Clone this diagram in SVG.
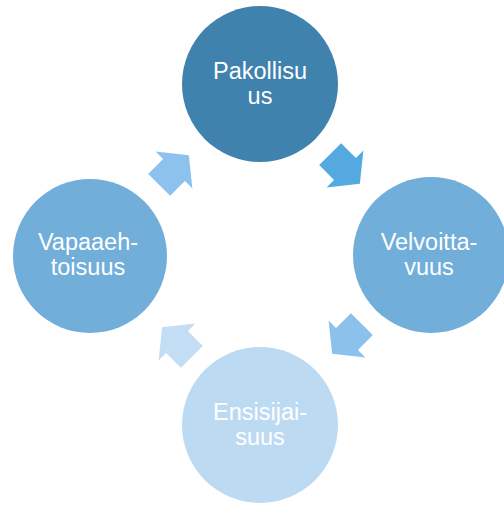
<svg xmlns="http://www.w3.org/2000/svg" width="504" height="505" viewBox="0 0 504 505">
  <defs>
    <style>
      .label { font-family: "Liberation Sans", Arial, sans-serif; font-size: 23.5px; fill: #ffffff; text-anchor: middle; }
    </style>
    <!-- block arrow pointing along +x, centred on the origin -->
    <path id="blockArrow" d="M-21,-15.5 H0 V-26 L21,0 L0,26 V15.5 H-21 Z"/>
  </defs>

  <rect width="504" height="505" fill="#ffffff"/>

  <g id="connectors">
    <use href="#blockArrow" fill="#8EC2EE" transform="translate(174,170) rotate(-45)"/>
    <use href="#blockArrow" fill="#54A9E1" transform="translate(345,169) rotate(45)"/>
    <use href="#blockArrow" fill="#8CC1EC" transform="translate(347,339) rotate(135)"/>
    <use href="#blockArrow" fill="#C3DDF4" transform="translate(177,342) rotate(225)"/>
  </g>

  <g id="pakollisuus">
    <circle cx="260" cy="84" r="78" fill="#3F82AE"/>
    <text class="label" x="260" y="79">Pakollisu</text>
    <text class="label" x="260" y="104">us</text>
  </g>

  <g id="velvoittavuus">
    <circle cx="431" cy="255" r="78" fill="#71AEDA"/>
    <text class="label" x="429" y="250">Velvoitta-</text>
    <text class="label" x="429" y="275">vuus</text>
  </g>

  <g id="ensisijaisuus">
    <circle cx="260" cy="425" r="78" fill="#BDDAF3"/>
    <text class="label" x="260" y="420">Ensisijai-</text>
    <text class="label" x="260" y="445">suus</text>
  </g>

  <g id="vapaaehtoisuus">
    <circle cx="90" cy="256" r="77" fill="#71AEDA"/>
    <text class="label" x="88" y="250">Vapaaeh-</text>
    <text class="label" x="88" y="275">toisuus</text>
  </g>
</svg>
